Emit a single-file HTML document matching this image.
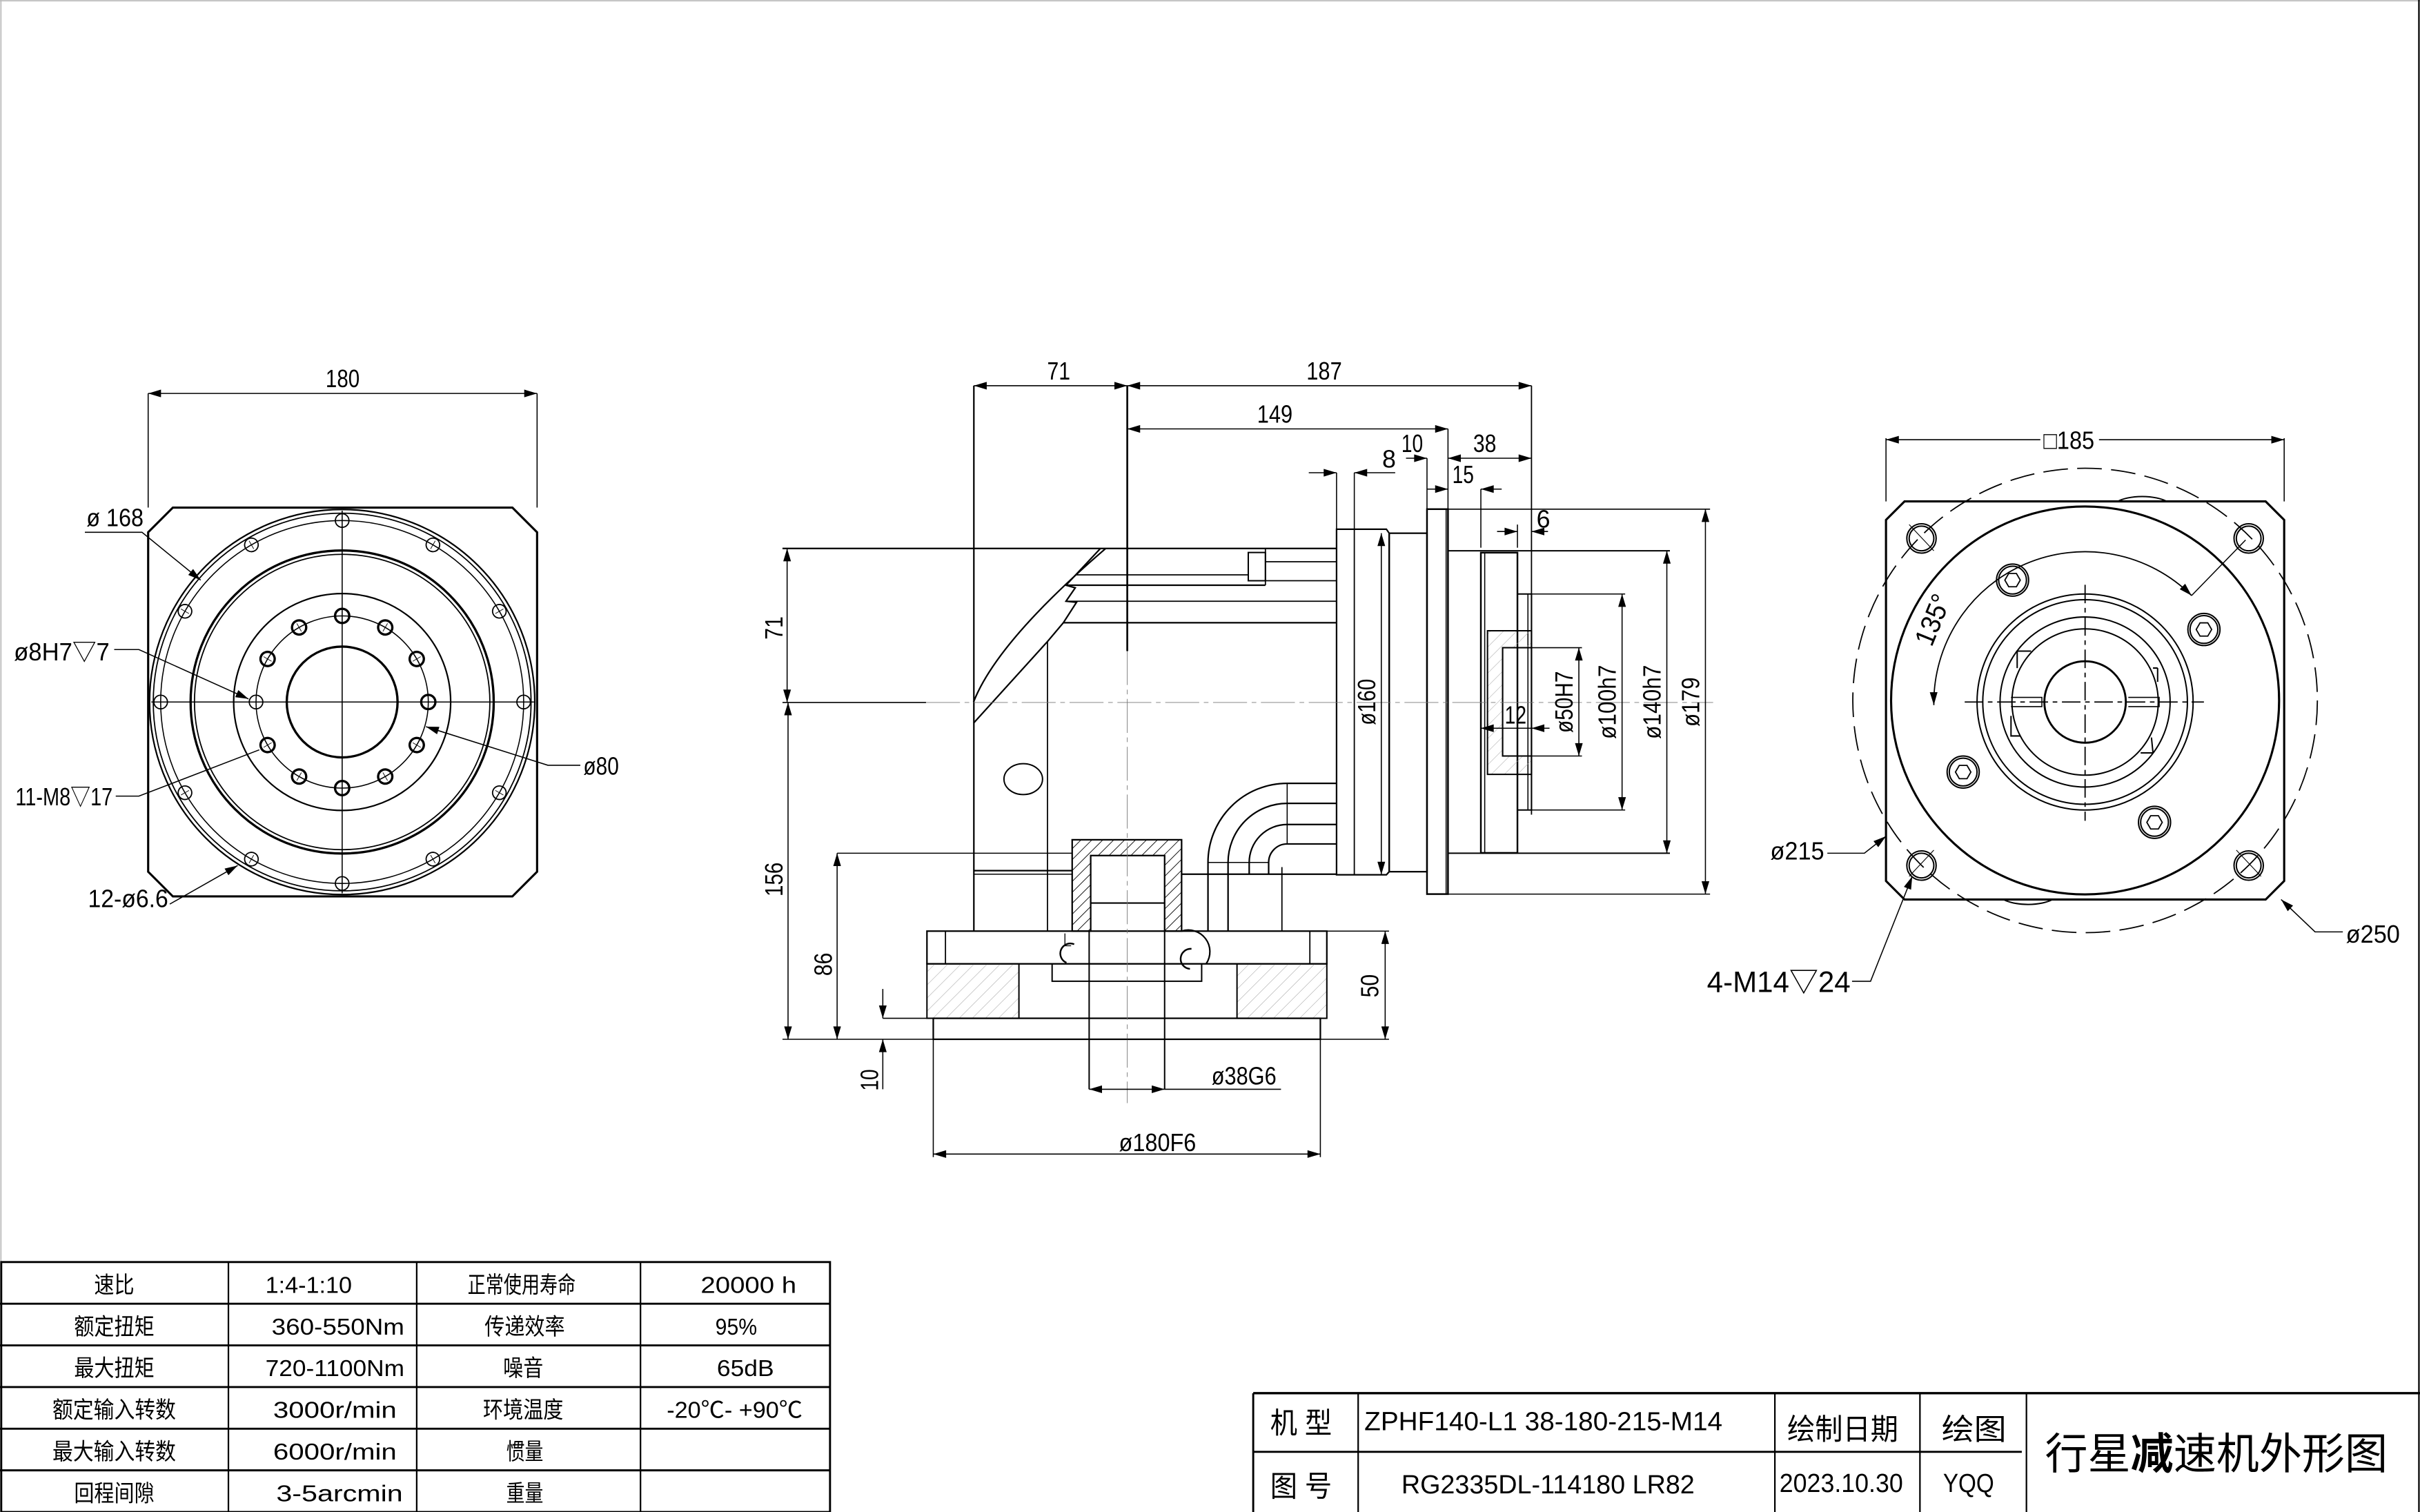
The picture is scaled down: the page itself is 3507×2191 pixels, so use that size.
<!DOCTYPE html>
<html><head><meta charset="utf-8"><style>
html,body{margin:0;padding:0;background:#fff}
svg{display:block}
text{font-family:"Liberation Sans","Noto Sans CJK SC",sans-serif;fill:#000}
</style></head><body>
<svg width="3507" height="2191" viewBox="0 0 1568 980" preserveAspectRatio="none" xmlns="http://www.w3.org/2000/svg">
<defs>
<marker id="a" viewBox="0 0 10 6" refX="10" refY="3" markerWidth="9" markerHeight="5" markerUnits="userSpaceOnUse" orient="auto-start-reverse"><path d="M0,0 L10,3 L0,6 z" fill="#000"/></marker>
<pattern id="hb" patternUnits="userSpaceOnUse" width="5" height="5" patternTransform="rotate(45)"><line x1="0" y1="0" x2="0" y2="5" stroke="#000" stroke-width="0.8"/></pattern>
<pattern id="hg" patternUnits="userSpaceOnUse" width="6" height="6" patternTransform="rotate(45)"><line x1="0" y1="0" x2="0" y2="6" stroke="#aaa" stroke-width="0.5"/></pattern>
<g id="sh"><circle r="4.4" fill="none" stroke="#000" stroke-width="0.8"/><line x1="-3" y1="0" x2="3" y2="0" stroke="#000" stroke-width="0.4"/><line x1="0" y1="-3" x2="0" y2="3" stroke="#000" stroke-width="0.4"/></g>
<g id="mh"><circle r="4.6" fill="none" stroke="#000" stroke-width="1.5"/><line x1="-3" y1="0" x2="3" y2="0" stroke="#000" stroke-width="0.4"/><line x1="0" y1="-3" x2="0" y2="3" stroke="#000" stroke-width="0.4"/></g>
<g id="hx"><circle r="10.4" fill="none" stroke="#000" stroke-width="0.9"/><circle r="9" fill="none" stroke="#000" stroke-width="0.9"/><polygon points="5,0 2.5,4.3 -2.5,4.3 -5,0 -2.5,-4.3 2.5,-4.3" fill="none" stroke="#000" stroke-width="0.8"/></g>
<g id="ch"><circle r="9.5" fill="none" stroke="#000" stroke-width="0.9"/><circle r="8" fill="none" stroke="#000" stroke-width="0.9"/></g>
</defs>

<line x1="0" y1="0.5" x2="1568" y2="0.5" stroke="#bbb" stroke-width="0.8"/>
<line x1="0.6" y1="0" x2="0.6" y2="980" stroke="#bbb" stroke-width="0.8"/>
<line x1="1567.3" y1="0" x2="1567.3" y2="980" stroke="#000" stroke-width="1"/>

<!-- LEFT VIEW -->
<g stroke="#000" fill="none">
<path d="M112,329 L332,329 L348,345 L348,565 L332,581 L112,581 L96,565 L96,345 Z" stroke-width="1.4"/>
<circle cx="221.7" cy="455" r="124.8" stroke-width="1"/>
<circle cx="221.7" cy="455" r="122.4" stroke-width="0.8"/>
<circle cx="221.7" cy="455" r="117.6" stroke-width="0.7"/>
<circle cx="221.7" cy="455" r="98.2" stroke-width="1.5"/>
<circle cx="221.7" cy="455" r="95.7" stroke-width="0.8"/>
<circle cx="221.7" cy="455" r="70.3" stroke-width="1"/>
<circle cx="221.7" cy="455" r="55.8" stroke-width="0.7"/>
<circle cx="221.7" cy="455" r="35.9" stroke-width="1.5"/>
<line x1="98" y1="455" x2="346" y2="455" stroke-width="0.7"/>
<line x1="221.7" y1="331" x2="221.7" y2="579" stroke-width="0.7"/>
<line x1="96" y1="255" x2="96" y2="329" stroke-width="0.7"/>
<line x1="348" y1="255" x2="348" y2="329" stroke-width="0.7"/>
<line x1="96" y1="255" x2="348" y2="255" stroke-width="0.7" marker-start="url(#a)" marker-end="url(#a)"/>
<polyline points="55,345 92,345 130,376" stroke-width="0.7" marker-end="url(#a)"/>
<polyline points="74,421 90,421 161,453" stroke-width="0.7" marker-end="url(#a)"/>
<polyline points="75,516 90,516 168,486" stroke-width="0.7"/>
<polyline points="110,586 154,561" stroke-width="0.7" marker-end="url(#a)"/>
<polyline points="376,496 355,496 276,471" stroke-width="0.7" marker-end="url(#a)"/>
</g>
<g>
<use href="#sh" x="221.7" y="337.4"/>
<use href="#sh" x="221.7" y="337.4" transform="rotate(30 221.7 455)"/>
<use href="#sh" x="221.7" y="337.4" transform="rotate(60 221.7 455)"/>
<use href="#sh" x="221.7" y="337.4" transform="rotate(90 221.7 455)"/>
<use href="#sh" x="221.7" y="337.4" transform="rotate(120 221.7 455)"/>
<use href="#sh" x="221.7" y="337.4" transform="rotate(150 221.7 455)"/>
<use href="#sh" x="221.7" y="337.4" transform="rotate(180 221.7 455)"/>
<use href="#sh" x="221.7" y="337.4" transform="rotate(210 221.7 455)"/>
<use href="#sh" x="221.7" y="337.4" transform="rotate(240 221.7 455)"/>
<use href="#sh" x="221.7" y="337.4" transform="rotate(270 221.7 455)"/>
<use href="#sh" x="221.7" y="337.4" transform="rotate(300 221.7 455)"/>
<use href="#sh" x="221.7" y="337.4" transform="rotate(330 221.7 455)"/>
<use href="#mh" x="221.7" y="399.2"/>
<use href="#mh" x="221.7" y="399.2" transform="rotate(30 221.7 455)"/>
<use href="#mh" x="221.7" y="399.2" transform="rotate(60 221.7 455)"/>
<use href="#mh" x="221.7" y="399.2" transform="rotate(90 221.7 455)"/>
<use href="#mh" x="221.7" y="399.2" transform="rotate(120 221.7 455)"/>
<use href="#mh" x="221.7" y="399.2" transform="rotate(150 221.7 455)"/>
<use href="#mh" x="221.7" y="399.2" transform="rotate(180 221.7 455)"/>
<use href="#mh" x="221.7" y="399.2" transform="rotate(210 221.7 455)"/>
<use href="#sh" x="221.7" y="399.2" transform="rotate(270 221.7 455)"/>
<use href="#mh" x="221.7" y="399.2" transform="rotate(240 221.7 455)"/>
<use href="#mh" x="221.7" y="399.2" transform="rotate(300 221.7 455)"/>
<use href="#mh" x="221.7" y="399.2" transform="rotate(330 221.7 455)"/>
</g>
<g font-size="16">
<text x="222" y="251" text-anchor="middle" textLength="22" lengthAdjust="spacingAndGlyphs">180</text>
<text x="56" y="341" textLength="37" lengthAdjust="spacingAndGlyphs">ø 168</text>
<text x="9" y="428" textLength="62" lengthAdjust="spacingAndGlyphs">ø8H7▽7</text>
<text x="10" y="522" textLength="63" lengthAdjust="spacingAndGlyphs">11-M8▽17</text>
<text x="57" y="588" textLength="52" lengthAdjust="spacingAndGlyphs">12-ø6.6</text>
<text x="378" y="502" textLength="23" lengthAdjust="spacingAndGlyphs">ø80</text>
</g>

<!-- MIDDLE VIEW -->
<g stroke="#000" fill="none" stroke-width="1">
<line x1="507" y1="355.5" x2="866" y2="355.5"/>
<line x1="631" y1="250" x2="631" y2="603.5"/>
<line x1="730.4" y1="250" x2="730.4" y2="422" stroke-width="1.2"/>
<line x1="678.7" y1="415.8" x2="678.7" y2="603.5" stroke-width="0.8"/>
<path d="M716.4,355.5 Q646,416 630.8,455"/>
<path d="M713,355.5 L690.7,379.3 L696.7,381 L690.7,389.7 L697.5,390.4 L689,403.6 L678.7,415.8 L630.8,468.7"/>
<line x1="696.7" y1="372.6" x2="808.8" y2="372.6" stroke-width="0.8"/>
<rect x="808.8" y="358.1" width="11.1" height="18.3" stroke-width="0.9"/>
<line x1="690.7" y1="379.3" x2="819.9" y2="379.3"/>
<line x1="819.9" y1="364.1" x2="866" y2="364.1" stroke-width="0.8"/>
<line x1="819.9" y1="376.4" x2="866" y2="376.4" stroke-width="0.8"/>
<line x1="819.9" y1="355.5" x2="819.9" y2="379.3" stroke-width="0.8"/>
<line x1="690.7" y1="389.7" x2="866" y2="389.7" stroke-width="0.8"/>
<line x1="689" y1="403.6" x2="866" y2="403.6"/>
<ellipse cx="663" cy="505" rx="12.5" ry="10" stroke-width="0.9"/>
<line x1="631" y1="564.3" x2="694.7" y2="564.3"/>
<line x1="631" y1="566.6" x2="694.7" y2="566.6" stroke-width="0.7"/>
<line x1="765.6" y1="566.6" x2="866" y2="566.6"/>
<path d="M782.7,603.5 L782.7,559 A51.3,51.3 0 0 1 834,507.7 L866,507.7"/>
<path d="M795.7,603.5 L795.7,559 A38.3,38.3 0 0 1 834,520.7 L866,520.7"/>
<path d="M809.4,566.6 L809.4,559 A24.6,24.6 0 0 1 834,534.4 L866,534.4"/>
<path d="M822,566.6 L822,559 A12,12 0 0 1 834,547 L866,547"/>
<line x1="834" y1="507.7" x2="834" y2="547" stroke-width="0.7"/>
<line x1="782.7" y1="559" x2="822" y2="559" stroke-width="0.7"/>
<line x1="830.6" y1="562" x2="830.6" y2="603.5" stroke-width="0.8"/>
<path d="M694.7,603.5 L694.7,544.3 L765.6,544.3 L765.6,603.5 L754.6,603.5 L754.6,554.5 L706.7,554.5 L706.7,603.5 Z" fill="url(#hb)" stroke-width="1"/>
<line x1="706.7" y1="585.3" x2="754.6" y2="585.3"/>
<path d="M866,343 L898.3,343 L900.1,345.6 L900.1,565 L898.3,567 L866,567 Z"/>
<line x1="877.5" y1="343" x2="877.5" y2="567" stroke-width="0.8"/>
<rect x="900.1" y="345.6" width="24.5" height="219.4"/>
<rect x="924.6" y="330" width="13.6" height="249.5" stroke-width="1.1"/>
<line x1="937" y1="330" x2="937" y2="579.5" stroke-width="0.7"/>
<line x1="938.2" y1="357" x2="1082" y2="357" stroke-width="0.9"/>
<line x1="938.2" y1="553" x2="1082" y2="553" stroke-width="0.9"/>
<rect x="959.5" y="358.2" width="23.7" height="194.6" stroke-width="1.1"/>
<line x1="962" y1="358.2" x2="962" y2="552.8" stroke-width="0.7"/>
<rect x="983.2" y="385" width="9.1" height="140" stroke-width="0.9"/>
<line x1="990" y1="385" x2="990" y2="525" stroke-width="0.7"/>
<path d="M963.8,408.8 L992.3,408.8 L992.3,419.8 L973.6,419.8 L973.6,490 L992.3,490 L992.3,501.9 L963.8,501.9 Z" fill="url(#hg)" stroke-width="0.9"/>
<rect x="973.6" y="419.8" width="18.7" height="70.2" stroke-width="0.9"/>
<line x1="992.3" y1="250" x2="992.3" y2="528" stroke-width="0.8"/>
<rect x="600.6" y="603.5" width="259.1" height="21.2"/>
<line x1="612.6" y1="603.5" x2="612.6" y2="624.7" stroke-width="0.8"/>
<line x1="848.7" y1="603.5" x2="848.7" y2="624.7" stroke-width="0.8"/>
<rect x="600.6" y="624.7" width="59.6" height="35.3" fill="url(#hg)" stroke-width="0.9"/>
<rect x="801.5" y="624.7" width="58.2" height="35.3" fill="url(#hg)" stroke-width="0.9"/>
<line x1="660.2" y1="624.7" x2="801.5" y2="624.7" stroke-width="0.9"/>
<path d="M681.7,624.7 L681.7,636 L778.6,636 L778.6,624.7" stroke-width="0.9"/>
<rect x="604.7" y="660" width="250.8" height="13.6" stroke-width="1"/>
<line x1="705.7" y1="603.5" x2="705.7" y2="706" stroke-width="0.9"/>
<line x1="754.6" y1="603.5" x2="754.6" y2="706" stroke-width="0.9"/>
<path d="M696,612 A6,6 0 1 0 691,624 " stroke-width="1.1"/>
<path d="M690,605 L690,613 L694,613" stroke-width="0.6"/>
<path d="M772,615 A6,6 0 0 0 771,628" stroke-width="1.1"/>
<path d="M765.6,603.5 A14,14 0 0 1 781.5,624.7" stroke-width="1"/>
<line x1="507" y1="455.3" x2="600" y2="455.3" stroke-width="0.7"/>
<line x1="600" y1="455.3" x2="1110" y2="455.3" stroke="#777" stroke-width="0.4" stroke-dasharray="22,3,3,3"/>
<line x1="730.4" y1="422" x2="730.4" y2="715" stroke="#777" stroke-width="0.4" stroke-dasharray="22,3,3,3"/>
</g>
<g stroke="#000" fill="none" stroke-width="0.7">
<line x1="631" y1="250" x2="730.4" y2="250" marker-start="url(#a)" marker-end="url(#a)"/>
<line x1="730.4" y1="250" x2="992.3" y2="250" marker-start="url(#a)" marker-end="url(#a)"/>
<line x1="730.4" y1="278" x2="938.2" y2="278" marker-start="url(#a)" marker-end="url(#a)"/>
<line x1="938.2" y1="278" x2="938.2" y2="330"/>
<line x1="911" y1="297" x2="924.6" y2="297" marker-end="url(#a)"/>
<line x1="938.2" y1="297" x2="992.3" y2="297" marker-start="url(#a)" marker-end="url(#a)"/>
<line x1="924.6" y1="297" x2="924.6" y2="330"/>
<line x1="848" y1="306.4" x2="866" y2="306.4" marker-end="url(#a)"/>
<line x1="904" y1="306.4" x2="877.5" y2="306.4" marker-end="url(#a)"/>
<line x1="866" y1="306.4" x2="866" y2="343"/>
<line x1="877.5" y1="306.4" x2="877.5" y2="343"/>
<line x1="924.6" y1="317" x2="938.2" y2="317" marker-end="url(#a)"/>
<line x1="973" y1="317" x2="959.5" y2="317" marker-end="url(#a)"/>
<line x1="959.5" y1="317" x2="959.5" y2="355"/>
<line x1="970" y1="344.5" x2="983.2" y2="344.5" marker-end="url(#a)"/>
<line x1="1003" y1="344.5" x2="992.3" y2="344.5" marker-end="url(#a)"/>
<line x1="983.2" y1="340" x2="983.2" y2="355"/>
<line x1="938.2" y1="330" x2="1108" y2="330"/>
<line x1="938.2" y1="579.5" x2="1108" y2="579.5"/>
<line x1="1105" y1="330" x2="1105" y2="579.5" marker-start="url(#a)" marker-end="url(#a)"/>
<line x1="1080" y1="357" x2="1080" y2="553" marker-start="url(#a)" marker-end="url(#a)"/>
<line x1="992.3" y1="385" x2="1053" y2="385"/>
<line x1="992.3" y1="525" x2="1053" y2="525"/>
<line x1="1051" y1="385" x2="1051" y2="525" marker-start="url(#a)" marker-end="url(#a)"/>
<line x1="992.3" y1="419.8" x2="1025" y2="419.8"/>
<line x1="992.3" y1="490" x2="1025" y2="490"/>
<line x1="1023" y1="419.8" x2="1023" y2="490" marker-start="url(#a)" marker-end="url(#a)"/>
<line x1="959.5" y1="472" x2="973.6" y2="472" marker-start="url(#a)"/>
<line x1="973.6" y1="472" x2="992.3" y2="472"/>
<line x1="1004" y1="472" x2="992.3" y2="472" marker-end="url(#a)"/>
<line x1="895" y1="345.6" x2="895" y2="566.9" marker-start="url(#a)" marker-end="url(#a)"/>
<line x1="510" y1="355.5" x2="510" y2="455.3" marker-start="url(#a)" marker-end="url(#a)"/>
<line x1="510.6" y1="455.3" x2="510.6" y2="673.6" marker-start="url(#a)" marker-end="url(#a)"/>
<line x1="542.4" y1="553" x2="694.7" y2="553"/>
<line x1="542.4" y1="553" x2="542.4" y2="673.6" marker-start="url(#a)" marker-end="url(#a)"/>
<line x1="507" y1="673.6" x2="900" y2="673.6"/>
<line x1="572" y1="641" x2="572" y2="660" marker-end="url(#a)"/>
<line x1="572" y1="706" x2="572" y2="673.6" marker-end="url(#a)"/>
<line x1="572" y1="660" x2="604.7" y2="660"/>
<line x1="859.7" y1="603.5" x2="900" y2="603.5"/>
<line x1="897.5" y1="603.5" x2="897.5" y2="673.6" marker-start="url(#a)" marker-end="url(#a)"/>
<line x1="705.7" y1="706" x2="754.6" y2="706" marker-start="url(#a)" marker-end="url(#a)"/>
<line x1="754.6" y1="706" x2="830" y2="706"/>
<line x1="604.7" y1="673.6" x2="604.7" y2="750"/>
<line x1="855.5" y1="673.6" x2="855.5" y2="750"/>
<line x1="604.7" y1="748" x2="855.5" y2="748" marker-start="url(#a)" marker-end="url(#a)"/>
</g>
<g font-size="16">
<text x="686" y="246" text-anchor="middle" textLength="15" lengthAdjust="spacingAndGlyphs">71</text>
<text x="858" y="246" text-anchor="middle" textLength="23" lengthAdjust="spacingAndGlyphs">187</text>
<text x="826" y="274" text-anchor="middle" textLength="23" lengthAdjust="spacingAndGlyphs">149</text>
<text x="915" y="293" text-anchor="middle" textLength="14" lengthAdjust="spacingAndGlyphs">10</text>
<text x="962" y="293" text-anchor="middle" textLength="15" lengthAdjust="spacingAndGlyphs">38</text>
<text x="900" y="303" text-anchor="middle">8</text>
<text x="948" y="313" text-anchor="middle" textLength="14" lengthAdjust="spacingAndGlyphs">15</text>
<text x="1000" y="342" text-anchor="middle">6</text>
<text x="982" y="469" text-anchor="middle" textLength="14" lengthAdjust="spacingAndGlyphs">12</text>
<text x="806" y="703" text-anchor="middle" textLength="42" lengthAdjust="spacingAndGlyphs">ø38G6</text>
<text x="750" y="746" text-anchor="middle" textLength="50" lengthAdjust="spacingAndGlyphs">ø180F6</text>
<text transform="translate(507,407) rotate(-90)" text-anchor="middle" textLength="15" lengthAdjust="spacingAndGlyphs">71</text>
<text transform="translate(507,570) rotate(-90)" text-anchor="middle" textLength="22" lengthAdjust="spacingAndGlyphs">156</text>
<text transform="translate(539,625) rotate(-90)" text-anchor="middle" textLength="15" lengthAdjust="spacingAndGlyphs">86</text>
<text transform="translate(569,700) rotate(-90)" text-anchor="middle" textLength="14" lengthAdjust="spacingAndGlyphs">10</text>
<text transform="translate(893,639) rotate(-90)" text-anchor="middle" textLength="15" lengthAdjust="spacingAndGlyphs">50</text>
<text transform="translate(891,455) rotate(-90)" text-anchor="middle" textLength="30" lengthAdjust="spacingAndGlyphs">ø160</text>
<text transform="translate(1019,455) rotate(-90)" text-anchor="middle" textLength="40" lengthAdjust="spacingAndGlyphs">ø50H7</text>
<text transform="translate(1047,455) rotate(-90)" text-anchor="middle" textLength="48" lengthAdjust="spacingAndGlyphs">ø100h7</text>
<text transform="translate(1076,455) rotate(-90)" text-anchor="middle" textLength="48" lengthAdjust="spacingAndGlyphs">ø140h7</text>
<text transform="translate(1101,455) rotate(-90)" text-anchor="middle" textLength="32" lengthAdjust="spacingAndGlyphs">ø179</text>
</g>

<!-- RIGHT VIEW -->
<g stroke="#000" fill="none">
<path d="M1234,325 L1468,325 L1480,337 L1480,571 L1468,583 L1234,583 L1222,571 L1222,337 Z" stroke-width="1.4"/>
<path d="M1372,325 A20,8 0 0 1 1404,325" stroke-width="0.9"/>
<path d="M1298,583 A20,8 0 0 0 1330,583" stroke-width="0.9"/>
<circle cx="1351" cy="454" r="125.7" stroke-width="1.4"/>
<circle cx="1351" cy="454" r="150.5" stroke-width="0.8" stroke-dasharray="16,6"/>
<circle cx="1351" cy="455" r="70" stroke-width="0.9"/>
<circle cx="1351" cy="455" r="66.3" stroke-width="0.9"/>
<circle cx="1351" cy="455" r="55.1" stroke-width="0.9"/>
<circle cx="1351" cy="455" r="47.4" stroke-width="0.9"/>
<circle cx="1351" cy="455" r="26.4" stroke-width="1.3"/>
<path d="M1307,433 L1307,422 L1316,422 M1398,433 L1398,442 M1395,433 L1398,433 M1303,464 L1303,477 L1309,477 M1395,488 L1394,478 M1387,488 L1395,488" stroke-width="0.9"/>
<path d="M1303,452 L1323,452 L1323,458 L1303,458 M1379,452 L1399,452 L1399,458 L1379,458" stroke-width="0.7"/>
<line x1="1273" y1="455" x2="1428" y2="455" stroke-width="0.8" stroke-dasharray="12,3,3,3"/>
<line x1="1351" y1="379" x2="1351" y2="532" stroke-width="0.8" stroke-dasharray="12,3,3,3"/>
<path d="M1420,386 A98,98 0 0 0 1253,457" stroke-width="0.8" marker-start="url(#a)" marker-end="url(#a)"/>
<line x1="1420" y1="386" x2="1455" y2="350" stroke-width="0.7"/>
<line x1="1222" y1="284" x2="1222" y2="325" stroke-width="0.7"/>
<line x1="1480" y1="284" x2="1480" y2="325" stroke-width="0.7"/>
<line x1="1222" y1="285" x2="1322" y2="285" stroke-width="0.7" marker-start="url(#a)"/>
<line x1="1360" y1="285" x2="1480" y2="285" stroke-width="0.7" marker-end="url(#a)"/>
<polyline points="1184,553 1208,553 1222,542" stroke-width="0.7" marker-end="url(#a)"/>
<polyline points="1518,604 1500,604 1478,583" stroke-width="0.7" marker-end="url(#a)"/>
<polyline points="1200,636 1212,636 1239,568" stroke-width="0.7" marker-end="url(#a)"/>
<line x1="1237" y1="340" x2="1253" y2="357" stroke-width="0.5"/>
<line x1="1237" y1="568" x2="1253" y2="551" stroke-width="0.5"/>
<line x1="1465" y1="568" x2="1449" y2="551" stroke-width="0.5"/>
</g>
<use href="#ch" x="1245" y="349"/>
<use href="#ch" x="1457" y="349"/>
<use href="#ch" x="1245" y="561"/>
<use href="#ch" x="1457" y="561"/>
<use href="#hx" x="1304" y="376"/>
<use href="#hx" x="1428" y="408"/>
<use href="#hx" x="1272" y="500.4"/>
<use href="#hx" x="1396" y="533"/>
<g font-size="16">
<text x="1324" y="291" textLength="33" lengthAdjust="spacingAndGlyphs">□185</text>
<text transform="translate(1258,404) rotate(-68)" text-anchor="middle" font-size="18" textLength="34" lengthAdjust="spacingAndGlyphs">135°</text>
<text x="1147" y="557" textLength="35" lengthAdjust="spacingAndGlyphs">ø215</text>
<text x="1520" y="611" textLength="35" lengthAdjust="spacingAndGlyphs">ø250</text>
<text x="1106" y="643" font-size="19" textLength="93" lengthAdjust="spacingAndGlyphs">4-M14▽24</text>
</g>

<!-- LEFT TABLE -->
<g stroke="#000" fill="none">
<rect x="0.8" y="818" width="537" height="162" stroke-width="1.3"/>
<line x1="0" y1="845" x2="538" y2="845" stroke-width="1.3"/>
<line x1="0" y1="872" x2="538" y2="872" stroke-width="1.3"/>
<line x1="0" y1="899" x2="538" y2="899" stroke-width="1.3"/>
<line x1="0" y1="926" x2="538" y2="926" stroke-width="1.3"/>
<line x1="0" y1="953" x2="538" y2="953" stroke-width="1.3"/>
<line x1="148" y1="818" x2="148" y2="980" stroke-width="1"/>
<line x1="270" y1="818" x2="270" y2="980" stroke-width="1"/>
<line x1="415" y1="818" x2="415" y2="980" stroke-width="1"/>
</g>
<g font-size="15" text-anchor="middle">
<text x="74" y="838" textLength="26" lengthAdjust="spacingAndGlyphs">速比</text>
<text x="74" y="865" textLength="52" lengthAdjust="spacingAndGlyphs">额定扭矩</text>
<text x="74" y="892" textLength="52" lengthAdjust="spacingAndGlyphs">最大扭矩</text>
<text x="74" y="919" textLength="80" lengthAdjust="spacingAndGlyphs">额定输入转数</text>
<text x="74" y="946" textLength="80" lengthAdjust="spacingAndGlyphs">最大输入转数</text>
<text x="74" y="973" textLength="52" lengthAdjust="spacingAndGlyphs">回程间隙</text>
<text x="200" y="838" textLength="56" lengthAdjust="spacingAndGlyphs">1:4-1:10</text>
<text x="219" y="865" textLength="86" lengthAdjust="spacingAndGlyphs">360-550Nm</text>
<text x="217" y="892" textLength="90" lengthAdjust="spacingAndGlyphs">720-1100Nm</text>
<text x="217" y="919" textLength="80" lengthAdjust="spacingAndGlyphs">3000r/min</text>
<text x="217" y="946" textLength="80" lengthAdjust="spacingAndGlyphs">6000r/min</text>
<text x="220" y="973" textLength="82" lengthAdjust="spacingAndGlyphs">3-5arcmin</text>
<text x="338" y="838" textLength="70" lengthAdjust="spacingAndGlyphs">正常使用寿命</text>
<text x="340" y="865" textLength="52" lengthAdjust="spacingAndGlyphs">传递效率</text>
<text x="339" y="892" textLength="26" lengthAdjust="spacingAndGlyphs">噪音</text>
<text x="339" y="919" textLength="52" lengthAdjust="spacingAndGlyphs">环境温度</text>
<text x="340" y="946" textLength="24" lengthAdjust="spacingAndGlyphs">惯量</text>
<text x="340" y="973" textLength="24" lengthAdjust="spacingAndGlyphs">重量</text>
<text x="485" y="838" textLength="62" lengthAdjust="spacingAndGlyphs">20000 h</text>
<text x="477" y="865" textLength="27" lengthAdjust="spacingAndGlyphs">95%</text>
<text x="483" y="892" textLength="37" lengthAdjust="spacingAndGlyphs">65dB</text>
<text x="476" y="919" textLength="88" lengthAdjust="spacingAndGlyphs">-20℃- +90℃</text>
</g>

<!-- TITLE BLOCK -->
<g stroke="#000" fill="none">
<line x1="812" y1="903" x2="1568" y2="903" stroke-width="1.5"/>
<line x1="812" y1="941" x2="1310" y2="941" stroke-width="1.3"/>
<line x1="812" y1="903" x2="812" y2="980" stroke-width="1.3"/>
<line x1="880" y1="903" x2="880" y2="980" stroke-width="1"/>
<line x1="1150" y1="903" x2="1150" y2="980" stroke-width="1"/>
<line x1="1244" y1="903" x2="1244" y2="980" stroke-width="1"/>
<line x1="1313" y1="903" x2="1313" y2="980" stroke-width="1"/>
</g>
<g font-size="19">
<text x="823" y="929" textLength="40" lengthAdjust="spacingAndGlyphs">机 型</text>
<text x="823" y="970" textLength="40" lengthAdjust="spacingAndGlyphs">图 号</text>
<text x="884" y="927" font-size="17" textLength="232" lengthAdjust="spacingAndGlyphs">ZPHF140-L1 38-180-215-M14</text>
<text x="908" y="968" font-size="17" textLength="190" lengthAdjust="spacingAndGlyphs">RG2335DL-114180 LR82</text>
<text x="1158" y="933" textLength="72" lengthAdjust="spacingAndGlyphs">绘制日期</text>
<text x="1153" y="967" font-size="17" textLength="80" lengthAdjust="spacingAndGlyphs">2023.10.30</text>
<text x="1258" y="933" textLength="42" lengthAdjust="spacingAndGlyphs">绘图</text>
<text x="1259" y="967" font-size="17" textLength="33" lengthAdjust="spacingAndGlyphs">YQQ</text>
<text x="1325" y="952" font-size="28" textLength="222" lengthAdjust="spacingAndGlyphs">行星<tspan font-weight="bold">减</tspan>速机外形图</text>
</g>
</svg>
</body></html>
